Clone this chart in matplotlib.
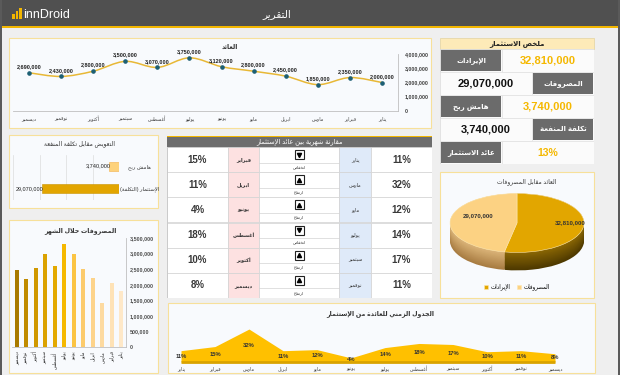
import numpy as np
import matplotlib
matplotlib.use("Agg")
import matplotlib.pyplot as plt
from matplotlib.patches import Rectangle, PathPatch
from matplotlib.path import Path
from matplotlib.colors import to_rgb

plt.rcParams['font.family'] = ['Liberation Sans', 'DejaVu Sans']

# data (calendar order)
months = ["يناير", "فبراير", "مارس", "ابريل", "مايو", "يونيو",
          "يوليو", "أغسطس", "سبتمبر", "أكتوبر", "نوفمبر", "ديسمبر"]
revenue = [2000000, 2350000, 1850000, 2450000, 2800000, 3120000,
           3750000, 3070000, 3500000, 2800000, 2430000, 2690000]
expenses = [1800000, 2050000, 1400000, 2200000, 2500000, 3000000,
            3300000, 2600000, 3000000, 2550000, 2190000, 2480000]
roi_pct = [11, 15, 32, 11, 12, 4, 14, 18, 17, 10, 11, 8]

bar_colors = ["#fee8c8", "#fee2b6", "#fddaa0", "#fdd38a", "#fccb6c", "#fbc443",
              "#f5b800", "#e3a900", "#dba200", "#d09800", "#c08b00", "#a87a00"]

total_rev = sum(revenue)
total_exp = sum(expenses)
margin = total_rev - total_exp
roi_total = round(100 * margin / total_exp)


# ---- very small arabic shaper (presentation forms + RTL) ----
_forms = {}
_base = 0xFE80
for cp, n in [(0x621, 1), (0x622, 2), (0x623, 2), (0x624, 2), (0x625, 2), (0x626, 4), (0x627, 2),
              (0x628, 4), (0x629, 2), (0x62A, 4), (0x62B, 4), (0x62C, 4), (0x62D, 4), (0x62E, 4),
              (0x62F, 2), (0x630, 2), (0x631, 2), (0x632, 2), (0x633, 4), (0x634, 4), (0x635, 4),
              (0x636, 4), (0x637, 4), (0x638, 4), (0x639, 4), (0x63A, 4), (0x641, 4), (0x642, 4),
              (0x643, 4), (0x644, 4), (0x645, 4), (0x646, 4), (0x647, 4), (0x648, 2), (0x649, 2),
              (0x64A, 4)]:
    _forms[chr(cp)] = (_base, n)
    _base += n
_lamalef = {'\u0622': 0xFEF5, '\u0623': 0xFEF7, '\u0625': 0xFEF9, '\u0627': 0xFEFB}


def ar(s):
    out = []
    prev = False
    i = 0
    while i < len(s):
        c = s[i]
        if c not in _forms:
            out.append(c)
            prev = False
            i += 1
            continue
        base, n = _forms[c]
        nxt = s[i + 1] if i + 1 < len(s) else ''
        if c == '\u0644' and nxt in _lamalef:
            out.append(chr(_lamalef[nxt] + (1 if prev else 0)))
            prev = False
            i += 2
            continue
        has_next = n == 4 and nxt in _forms
        if n == 1:
            f = 0
        elif n == 2:
            f = 1 if prev else 0
        else:
            f = (3 if has_next else 1) if prev else (2 if has_next else 0)
        out.append(chr(base + f))
        prev = n == 4
        i += 1
    return ''.join(reversed(out)).translate(str.maketrans('()', ')('))


def fmt(v):
    return f"{v:,.0f}"


W, H = 620, 375
fig = plt.figure(figsize=(W / 100, H / 100), dpi=100)
fig.patch.set_facecolor("#efefef")
bg = fig.add_axes([0, 0, 1, 1])
bg.set_xlim(0, W)
bg.set_ylim(H, 0)
bg.axis('off')


def rect(x0, y0, x1, y1, fc, ec='none', lw=0.8, z=1):
    bg.add_patch(Rectangle((x0, y0), x1 - x0, y1 - y0, facecolor=fc, edgecolor=ec, lw=lw, zorder=z))


def px_ax(x0, y0, x1, y1):
    a = fig.add_axes([x0 / W, 1 - y1 / H, (x1 - x0) / W, (y1 - y0) / H])
    a.set_facecolor('none')
    return a


PANEL = "#f8fafd"
PEDGE = "#f7e09a"
DARK = "#333333"

# header
rect(0, 0, W, 26, "#505050")
rect(0, 26, W, 28, "#f2b600")
rect(0, 0, 1.5, H, "#5a5a5a")
rect(W - 2, 0, W, H, "#5a5a5a")
bg.text(277, 14, ar("التقرير"), color='white', fontsize=7.5, ha='center', va='center')
for bx, bh in [(12, 5), (15.5, 8), (19, 11)]:
    rect(bx, 19 - bh, bx + 2.5, 19, "#f2b600", z=2)
bg.text(23, 14.5, "innDroid", color='white', fontsize=9, ha='left', va='center')

# panels
rect(9, 38, 431, 128, PANEL, PEDGE)
rect(9, 135, 158, 208, PANEL, PEDGE)
rect(9, 220, 158, 373, PANEL, PEDGE)
rect(440, 172, 594, 298, PANEL, PEDGE)
rect(168, 303, 595, 373, PANEL, PEDGE)

# ---------- top line chart ----------
ax = px_ax(13, 54.3, 398, 110.7)
x = np.arange(12)
y = np.array(revenue, dtype=float)
pts = np.column_stack([x, y])
ext = np.vstack([pts[0], pts, pts[-1]])
verts = [tuple(pts[0])]
codes = [Path.MOVETO]
for i in range(len(pts) - 1):
    p0, p1, p2, p3 = ext[i], ext[i + 1], ext[i + 2], ext[i + 3]
    verts += [tuple(p1 + (p2 - p0) / 6), tuple(p2 - (p3 - p1) / 6), tuple(p2)]
    codes += [Path.CURVE4] * 3
ax.add_patch(PathPatch(Path(verts, codes), fill=False, edgecolor="#e8b836", lw=1.1, zorder=2))
ax.plot(x, y, 'o', ms=2.3, color="#1d5f74", zorder=3)
for xi, v in zip(x, revenue):
    ax.annotate(fmt(v), (xi, v), xytext=(0, 4.5), textcoords='offset points', ha='center', va='center',
                fontsize=4, fontweight='bold', color="#222222")
ax.set_xlim(11.5, -0.5)
ax.set_ylim(0, 4000000)
ax.set_xticks(x)
ax.set_xticklabels([ar(m) for m in months], fontsize=3.5, color="#404040")
ax.set_yticks(range(0, 4000001, 1000000))
ax.set_yticklabels([fmt(v) for v in range(0, 4000001, 1000000)], fontsize=3.8, fontweight='bold', color="#404040")
ax.yaxis.tick_right()
ax.tick_params(length=0)
ax.tick_params(axis='x', pad=4)
ax.tick_params(axis='y', pad=5)
for s in ['top', 'left']:
    ax.spines[s].set_visible(False)
for s in ['right', 'bottom']:
    ax.spines[s].set_color("#bfbfbf")
    ax.spines[s].set_linewidth(0.6)
bg.text(230, 47, ar("العائد"), fontsize=4.5, fontweight='bold', ha='center', va='center', color=DARK)

# ---------- summary box ----------
rect(440, 38, 594, 49, "#fdeab8", "#e6d7a8", lw=0.6)
bg.text(517, 43.5, ar("ملخص الاستثمار"), fontsize=5, fontweight='bold', ha='center', va='center', color="#222222")
sax = px_ax(440, 49, 594, 164)
sax.set_xlim(0, 154)
sax.set_ylim(5, 0)
sax.axis('off')
summary = [("الإيرادات", fmt(total_rev)), ("المصروفات", fmt(total_exp)),
           ("هامش ربح", fmt(margin)), ("تكلفة المنفعة", fmt(margin)),
           ("عائد الاستثمار", f"{roi_total}%")]
sax.add_patch(Rectangle((0, 0), 154, 5, facecolor="#fafafa", edgecolor="#d6d6d6", lw=0.6))
for r, (lab, val) in enumerate(summary):
    if r % 2 == 0:
        lx, lw_, vx, vw, vcol = 0, 62, 62, 92, "#f5b800"
    else:
        lx, lw_, vx, vw, vcol = 92, 62, 0, 92, "#111111"
    sax.add_patch(Rectangle((lx + 1, r + 0.05), lw_ - 2, 0.9, facecolor="#6b6b6b", edgecolor='none'))
    sax.add_patch(Rectangle((vx, r), vw, 1, facecolor="#fbfbfb", edgecolor="#e0e0e0", lw=0.5))
    sax.text(lx + lw_ / 2, r + 0.5, ar(lab), color='white', fontsize=5, fontweight='bold', ha='center', va='center')
    sax.text(vx + vw / 2, r + 0.52, val, color=vcol, fontsize=8 if '%' not in val else 7.5,
             fontweight='bold', ha='center', va='center')

# ---------- compensation hbar ----------
bg.text(80, 144, ar("التعويض مقابل تكلفة المنفعة"), fontsize=4.3, ha='center', va='center', color=DARK)
hax = px_ax(13, 155, 119, 200)
hvals = [total_exp, margin]
hlabels = [ar("الإستثمار (التكلفة)"), ar("هامش ربح")]
hax.barh([0, 1], hvals, height=0.4, color=["#e2a500", "#fdd27c"], edgecolor=["#c99300", "#f2b04a"], lw=0.4, zorder=2)
for yi, v in zip([0, 1], hvals):
    hax.annotate(fmt(v), (v, yi), xytext=(1.2, 0), textcoords='offset points', fontsize=4,
                 ha='right', va='center', color="#222222", zorder=3)
hax.set_xlim(40000000, 0)
hax.set_ylim(-0.5, 1.5)
hax.set_xticks(range(0, 40000001, 10000000))
hax.xaxis.grid(True, color="#dcdcdc", lw=0.5)
hax.set_xticklabels([])
hax.set_yticks([0, 1])
hax.set_yticklabels(hlabels, fontsize=3.8, color="#333333", ha='center')
hax.yaxis.tick_right()
hax.tick_params(length=0)
hax.tick_params(axis='y', pad=15)
for s in hax.spines.values():
    s.set_visible(False)

# ---------- expenses bar chart ----------
bg.text(80, 231, ar("المصروفات خلال الشهر"), fontsize=4.5, fontweight='bold', ha='center', va='center', color=DARK)
bax = px_ax(12, 238, 126, 347)
bax.bar(x, expenses, width=0.47, color=bar_colors, zorder=2)
bax.set_xlim(11.5, -0.5)
bax.set_ylim(0, 3500000)
bax.set_xticks(x)
bax.set_xticklabels([ar(m) for m in months], fontsize=3.3, rotation=90, color="#333333")
bax.set_yticks(range(0, 3500001, 500000))
bax.set_yticklabels([fmt(v) for v in range(0, 3500001, 500000)], fontsize=3.9, fontweight='bold', color="#505050")
bax.yaxis.tick_right()
bax.tick_params(length=0, pad=3)
for s in ['top', 'left']:
    bax.spines[s].set_visible(False)
for s in ['right', 'bottom']:
    bax.spines[s].set_color("#bfbfbf")
    bax.spines[s].set_linewidth(0.6)

# ---------- comparison table ----------
rect(167, 136, 432, 137.2, "#f2b600", z=2)
rect(167, 137, 432, 147, "#6d6d6d", z=2)
bg.text(300, 142, ar("مقارنة شهرية بين عائد الإستثمار"), fontsize=4.8, color='white', ha='center', va='center', zorder=3)
tax = px_ax(167, 147, 432, 298)
tax.set_xlim(0, 265)
tax.set_ylim(6, 0)
tax.axis('off')
right_m, right_p = months[0::2], roi_pct[0::2]
left_m, left_p = months[1::2], roi_pct[1::2]
cols = [(0, 61, "#ffffff"), (61, 92, "#fde1e1"), (92, 172, "#ffffff"), (172, 204, "#dfeaf9"), (204, 265, "#ffffff")]
for r in range(6):
    for c0, c1, fc in cols:
        tax.add_patch(Rectangle((c0, r), c1 - c0, 1, facecolor=fc, edgecolor="#d3d3d3", lw=0.5))
    tax.text(30.5, r + 0.5, f"{left_p[r]}%", fontsize=7, fontweight='bold', color="#3a3a3a", ha='center', va='center')
    tax.text(234.5, r + 0.5, f"{right_p[r]}%", fontsize=7, fontweight='bold', color="#3a3a3a", ha='center', va='center')
    tax.text(76.5, r + 0.5, ar(left_m[r]), fontsize=3.6, fontweight='bold', color="#333333", ha='center', va='center')
    tax.text(188, r + 0.5, ar(right_m[r]), fontsize=3.6, color="#333333", ha='center', va='center')
    up = right_p[r] > left_p[r]
    tax.add_patch(Rectangle((128, r + 0.12), 8.5, 0.36, facecolor='white', edgecolor="#222222", lw=0.8))
    tax.plot(132.25, r + 0.3, marker='^' if up else 'v', ms=3, color='black')
    tax.plot([92, 172], [r + 0.62, r + 0.62], color="#d3d3d3", lw=0.5)
    tax.text(132.25, r + 0.8, ar("ارتفاع" if up else "انخفاض"), fontsize=3, color="#333333", ha='center', va='center')
tax.add_patch(Rectangle((0, 0), 265, 6, facecolor='none', edgecolor="#c8c8c8", lw=0.6))

# ---------- pie ----------
bg.text(527, 182, ar("العائد مقابل المصروفات"), fontsize=4.3, ha='center', va='center', color=DARK)
pax = px_ax(440, 187.6, 594, 276)
pie_vals = [total_rev, total_exp]
depth = 0.61
n = 16
rev_lo, rev_hi = np.array(to_rgb("#4e3900")), np.array(to_rgb("#8c6804"))
exp_lo, exp_hi = np.array(to_rgb("#a87c42")), np.array(to_rgb("#ddb67a"))
for k in range(n):
    t = k / (n - 1)
    pax.pie(pie_vals, colors=[tuple(rev_lo + (rev_hi - rev_lo) * t), tuple(exp_lo + (exp_hi - exp_lo) * t)],
            startangle=90, counterclock=False, center=(0, -depth + depth * t), radius=1,
            wedgeprops=dict(linewidth=0))
top, _ = pax.pie(pie_vals, colors=["#e2a600", "#fcd283"], startangle=90, counterclock=False,
                 wedgeprops=dict(linewidth=0.4, edgecolor="#fde7b0"))
pax.text(0.80, 0.0, fmt(total_rev), fontsize=4.4, fontweight='bold', color="#333333", ha='center', va='center')
pax.text(-0.58, 0.25, fmt(total_exp), fontsize=4.4, fontweight='bold', color="#333333", ha='center', va='center')
pax.set_xlim(-1.15, 1.15)
pax.set_ylim(-1.8, 1.2)
pax.set_aspect('auto')
pax.axis('off')
pax.legend(top, [ar("الإيرادات"), ar("المصروفات")], loc='center', bbox_to_anchor=(517 / W, 1 - 287 / H),
           bbox_transform=fig.transFigure, ncol=2, fontsize=4, frameon=False, handlelength=0.7,
           handleheight=0.7, columnspacing=1.2, handletextpad=0.4)

# ---------- ROI area timeline ----------
bg.text(380, 314, ar("الجدول الزمني للعائدة من الإستثمار"), fontsize=4.5, fontweight='bold', ha='center',
        va='center', color=DARK)
aax = px_ax(170.8, 320.8, 565.2, 362)
roi = np.array(roi_pct) / 100
aax.fill_between(x, roi, color="#ffc000", lw=0, zorder=2)
aax.plot([0, 11], [0, 0], color="#d9a300", lw=2, zorder=3, clip_on=False, solid_capstyle='butt')
for xi, v in zip(x, roi_pct):
    aax.text(xi, v / 200, f"{v}%", fontsize=4.2, fontweight='bold', color="#333333", ha='center', va='center', zorder=4)
aax.set_xlim(-0.3, 11.3)
aax.set_ylim(0, 0.40)
aax.set_xticks(x)
aax.set_xticklabels([ar(m) for m in months], fontsize=3.4, color="#404040")
aax.set_yticks([])
aax.tick_params(length=0, pad=3)
for s in aax.spines.values():
    s.set_visible(False)

fig.savefig("out.png", dpi=100, facecolor=fig.get_facecolor())
